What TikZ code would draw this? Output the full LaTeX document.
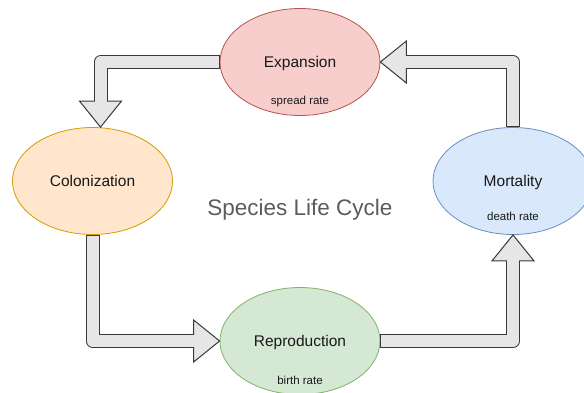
\documentclass[tikz,border=0pt]{standalone}
\usepackage{fontspec}
\setmainfont{Liberation Sans}
\usetikzlibrary{calc,shapes.geometric,positioning}
\definecolor{expfill}{HTML}{F8CECC}\definecolor{expline}{HTML}{B85450}
\definecolor{colfill}{HTML}{FFE6CC}\definecolor{colline}{HTML}{D79B00}
\definecolor{repfill}{HTML}{D5E8D4}\definecolor{repline}{HTML}{82B366}
\definecolor{mortfill}{HTML}{DAE8FC}\definecolor{mortline}{HTML}{6C8EBF}
\definecolor{arrowgrey}{HTML}{E6E6E6}\definecolor{arrowline}{HTML}{36393D}
\definecolor{titlegrey}{HTML}{5C5C5C}

\begin{document}
\begin{tikzpicture}[x=1pt,y=-1pt,
  stage/.style={ellipse,line width=0.8pt,minimum width=160pt,minimum height=107pt,inner sep=0pt,
    text=black!90,font=\fontsize{15.5}{18}\selectfont,text height=11pt,text depth=0pt},
  rate/.style={text=black!90,font=\fontsize{11.5}{14}\selectfont,text height=8.5pt,text depth=0pt,inner sep=0pt},
  shaftout/.style={draw=arrowline,line width=14pt,line join=round,shorten >=26pt},
  shaftin/.style={draw=arrowgrey,line width=12pt,line join=round,shorten <=1pt,shorten >=25pt},
  head/.style={fill=arrowgrey,draw=arrowline,line width=1pt}]
\path[use as bounding box,fill=white] (0,0) rectangle (584,392);

% stages of the cycle
\node[stage,fill=expfill,draw=expline] (exp) at (300,62) {Expansion};
\node[stage,fill=colfill,draw=colline] (col) at (92.5,181) {Colonization};
\node[stage,fill=repfill,draw=repline] (rep) at (300,341) {Reproduction};
\node[stage,fill=mortfill,draw=mortline] (mort) at (513,181) {Mortality};
\node[rate] (expRate) at ($(exp)+(0,38)$) {spread rate};
\node[rate] (repRate) at ($(rep)+(0,39)$) {birth rate};
\node[rate] (mortRate) at ($(mort)+(0,35)$) {death rate};

\node[text=titlegrey,font=\fontsize{22.5}{26}\selectfont] (title) at (300,210) {Species Life Cycle};

% flex arrows
\draw[shaftout] (exp.west) -| ([xshift=8pt]col.north);
\filldraw[head] ([xshift=8pt]col.north) -- ++(-21,-26) -- ++(42,0) -- cycle;
\draw[shaftin] (exp.west) -| ([xshift=8pt]col.north);

\draw[shaftout] (col.south) |- (rep.west);
\filldraw[head] (rep.west) -- ++(-26,-21) -- ++(0,42) -- cycle;
\draw[shaftin] (col.south) |- (rep.west);

\draw[shaftout] (rep.east) -| (mort.south);
\filldraw[head] (mort.south) -- ++(-21,26) -- ++(42,0) -- cycle;
\draw[shaftin] (rep.east) -| (mort.south);

\draw[shaftout] (mort.north) |- (exp.east);
\filldraw[head] (exp.east) -- ++(26,-21) -- ++(0,42) -- cycle;
\draw[shaftin] (mort.north) |- (exp.east);
\end{tikzpicture}
\end{document}
